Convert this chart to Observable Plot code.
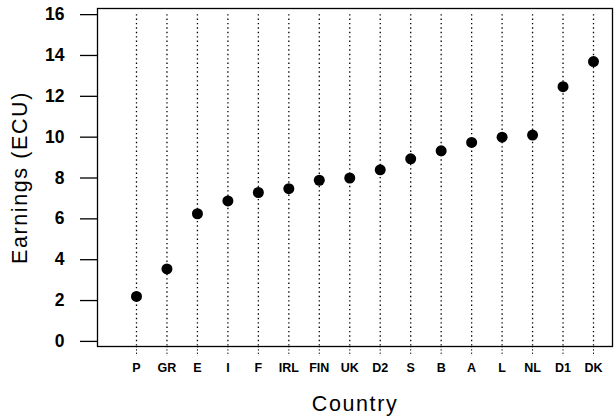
<!DOCTYPE html>
<html>
<head>
<meta charset="utf-8">
<script src="https://cdn.jsdelivr.net/npm/d3@7"></script>
<script src="https://cdn.jsdelivr.net/npm/@observablehq/plot@0.6"></script>
<style>
  html, body { margin: 0; padding: 0; background: #fff; }
  #chart svg { display: block; font-family: "Liberation Sans", Arial, sans-serif; }
  #chart g[aria-label="y-axis tick label"], #chart g[aria-label="y-axis tick label"] text { font-size: 17.5px !important; font-weight: bold !important; }
  #chart g[aria-label="x-axis tick label"], #chart g[aria-label="x-axis tick label"] text { font-size: 12.5px !important; font-weight: bold !important; }
  #chart g[aria-label="y-axis label"] text, #chart g[aria-label="x-axis label"] text { font-size: 21.5px !important; font-weight: normal !important; letter-spacing: 1.6px; }
</style>
</head>
<body>
<div id="chart"></div>
<script>
const countries = ["P","GR","E","I","F","IRL","FIN","UK","D2","S","B","A","L","NL","D1","DK"];
const earnings = [2.2,3.55,6.25,6.88,7.29,7.48,7.89,8.0,8.4,8.94,9.33,9.74,10.0,10.1,12.47,13.7];
const yTicks = [0,2,4,6,8,10,12,14,16];

const data = countries.map((c, i) => ({country: c, earnings: earnings[i]}));

const plot = Plot.plot({
  width: 616,
  height: 418,
  marginLeft: 97,
  marginRight: 4,
  marginTop: 8,
  marginBottom: 72,
  style: {fontFamily: "Liberation Sans, Arial, sans-serif", color: "#000", background: "#fff"},
  x: {type: "point", domain: countries, range: [136, 593], padding: 0, round: false},
  y: {domain: [-0.25, 16.3]},
  marks: [
    Plot.ruleX(data, {x: "country", y1: 16, y2: -0.25, stroke: "#000", strokeWidth: 1.3, strokeDasharray: "1.4,3"}),
    Plot.frame({stroke: "#000", strokeWidth: 1.3}),
    Plot.axisY({ticks: yTicks, tickSize: 17, tickPadding: 16, strokeWidth: 1.3,
      label: "Earnings (ECU)", labelAnchor: "center", labelArrow: "none", labelOffset: 86}),
    Plot.axisX({tickSize: 10, tickPadding: 7, strokeDasharray: "1.3,2",
      label: "Country", labelAnchor: "center", labelArrow: "none", labelOffset: 64}),
    Plot.dot(data, {x: "country", y: "earnings", r: 5.5, fill: "#000", stroke: "none"})
  ]
});

document.getElementById("chart").appendChild(plot);
</script>
</body>
</html>
